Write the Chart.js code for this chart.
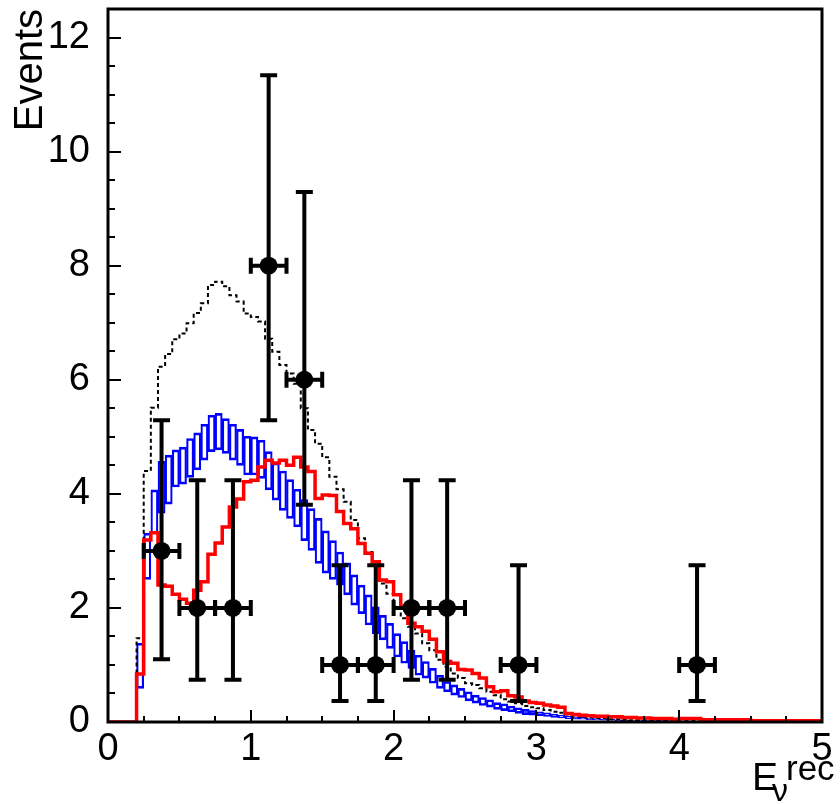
<!DOCTYPE html>
<html><head><meta charset="utf-8">
<script src="https://cdn.jsdelivr.net/npm/chart.js@4/dist/chart.umd.min.js"></script>
<style>html,body{margin:0;padding:0;background:#fff}</style>
</head><body>
<canvas id="c" width="840" height="804"></canvas>
<script>
// ---- data ----
const binLowEdges = [0,0.05,0.1,0.15,0.2,0.25,0.3,0.35,0.4,0.45,0.5,0.55,0.6,0.65,0.7,0.75,0.8,0.85,0.9,0.95,
1,1.05,1.1,1.15,1.2,1.25,1.3,1.35,1.4,1.45,1.5,1.55,1.6,1.65,1.7,1.75,1.8,1.85,1.9,1.95,
2,2.05,2.1,2.15,2.2,2.25,2.3,2.35,2.4,2.45,2.5,2.55,2.6,2.65,2.7,2.75,2.8,2.85,2.9,2.95,
3,3.05,3.1,3.15,3.2,3.25,3.3,3.35,3.4,3.45,3.5,3.55,3.6,3.65,3.7,3.75,3.8,3.85,3.9,3.95,
4,4.05,4.1,4.15,4.2,4.25,4.3,4.35,4.4,4.45,4.5,4.55,4.6,4.65,4.7,4.75,4.8,4.85,4.9,4.95];
const histUpperEdge = 5;
const binHalfWidth = 0.025;

const redHist = [0,0,0,0,0.84,3.19,3.32,2.40,2.38,2.24,2.15,2.08,2.31,2.46,2.94,3.14,3.42,3.77,3.91,4.21,
4.24,4.47,4.59,4.54,4.59,4.50,4.64,4.47,4.39,3.92,3.98,3.97,3.69,3.48,3.39,3.13,2.96,2.81,2.49,2.46,
2.23,2.03,1.73,1.67,1.59,1.45,1.23,1.06,1.03,0.92,0.91,0.85,0.77,0.62,0.53,0.55,0.46,0.44,0.37,0.34,
0.33,0.30,0.28,0.26,0.15,0.13,0.12,0.11,0.10,0.10,0.09,0.09,0.08,0.08,0.07,0.07,0.06,0.06,0.06,0.05,
0.06,0.06,0.06,0.04,0.04,0.04,0.04,0.04,0.04,0.04,0.02,0.02,0.02,0.02,0.02,0.02,0.02,0.02,0.02,0.02];

const dottedHist = [0,0,0,0,1.47,4.40,5.51,6.23,6.45,6.71,6.81,6.99,7.17,7.34,7.66,7.72,7.64,7.48,7.37,7.16,
7.10,7.02,6.72,6.49,6.26,6.11,5.93,5.50,5.12,4.88,4.64,4.30,4.08,3.86,3.54,3.22,2.98,2.81,2.43,2.25,
2.02,1.82,1.67,1.55,1.38,1.26,1.09,0.97,0.85,0.77,0.68,0.65,0.59,0.53,0.47,0.40,0.36,0.33,0.28,0.26,
0.24,0.21,0.18,0.16,0.13,0.11,0.09,0.08,0.07,0.06,0.05,0.05,0.04,0.03,0.03,0.03,0.03,0.03,0.03,0.03,
0.02,0.02,0.02,0.02,0.02,0.02,0.02,0.02,0.02,0.02,0.01,0.01,0.01,0.01,0.01,0.01,0.01,0.01,0.01,0.01];

const blueLow = [null,null,null,null,0.59,2.50,3.30,3.66,3.82,4.12,4.17,4.29,4.42,4.59,4.74,4.77,4.71,4.59,4.50,4.33,
4.33,4.27,4.07,3.89,3.71,3.57,3.42,3.18,3.01,2.78,2.61,2.50,2.40,2.23,2.05,1.90,1.70,1.55,1.44,1.29,
1.14,1.03,0.94,0.82,0.77,0.68,0.59,0.53,0.47,0.43,0.37,0.33,0.29,0.26,0.22,0.20,0.18,0.15,0.13,0.12,
0.11,0.10,0.08,0.07,0.06,0.05,0.05,0.04,0.04,0.03,0.03,0.02,0.02,0.02,0.01,0.01,0.01,0.01,0.01,0.01,
0.01,0.01,0.01,0.01,0.01,0.01,0.01,0.01,0.01,0.01,0,0,0,0,0,0,0,0,0,0];
const blueHigh = [null,null,null,null,1.38,3.31,4.07,4.57,4.68,4.77,4.82,4.97,5.07,5.22,5.38,5.41,5.32,5.22,5.13,5.01,
5.00,4.94,4.74,4.54,4.40,4.25,4.08,3.90,3.74,3.57,3.35,3.18,2.98,2.79,2.58,2.40,2.23,2.02,1.87,1.73,
1.55,1.41,1.26,1.17,1.06,0.94,0.82,0.71,0.65,0.59,0.53,0.47,0.43,0.39,0.34,0.32,0.28,0.25,0.22,0.20,
0.18,0.16,0.14,0.12,0.10,0.09,0.08,0.07,0.06,0.05,0.05,0.04,0.04,0.03,0.03,0.03,0.03,0.03,0.03,0.03,
0.02,0.02,0.02,0.02,0.02,0.02,0.02,0.02,0.02,0.02,0.01,0.01,0.01,0.01,0.01,0.01,0.01,0.01,0.01,0.01];

const pointX = [0.375,0.625,0.875,1.125,1.375,1.625,1.875,2.125,2.375,2.875,4.125];
const pointY = [3,2,2,8,6,1,1,2,2,1,1];
const pointLow = [1.10,0.74,0.74,5.29,3.81,0.37,0.37,0.74,0.74,0.37,0.37];
const pointHigh = [5.29,4.24,4.24,11.34,9.29,2.75,2.75,4.24,4.24,2.75,2.75];
const pointXErr = [0.125,0.125,0.125,0.125,0.125,0.125,0.125,0.125,0.125,0.125,0.125];

const xTickLabels = ['0','1','2','3','4','5'];
const yTickLabels = ['0','2','4','6','8','10','12'];
// ---- end data ----

const FONT = '"Liberation Sans", Arial, Helvetica, sans-serif';

function stepData(vals) {
  const d = binLowEdges.map((x, i) => ({x: x, y: vals[i]}));
  d.push({x: histUpperEdge, y: vals[vals.length - 1]});
  return d;
}
const bandData = binLowEdges.map((x, i) => (blueLow[i] === null ? {x: x + binHalfWidth, y: null} : {x: x + binHalfWidth, y: [blueLow[i], blueHigh[i]]}));
const pointData = pointX.map((x, i) => ({x: x, y: pointY[i]}));

const decorPlugin = {
  id: 'decor',
  afterDatasetsDraw(chart) {
    const ctx = chart.ctx;
    const xs = chart.scales.x, ys = chart.scales.y;
    ctx.save();
    ctx.strokeStyle = '#000';
    ctx.lineWidth = 4;
    ctx.lineCap = 'butt';
    for (let i = 0; i < pointX.length; i++) {
      const px = xs.getPixelForValue(pointX[i]);
      const py = ys.getPixelForValue(pointY[i]);
      const pl = ys.getPixelForValue(pointLow[i]);
      const ph = ys.getPixelForValue(pointHigh[i]);
      const xl = xs.getPixelForValue(pointX[i] - pointXErr[i]);
      const xr = xs.getPixelForValue(pointX[i] + pointXErr[i]);
      ctx.beginPath();
      ctx.moveTo(px, pl); ctx.lineTo(px, ph);
      ctx.moveTo(px - 8.5, pl); ctx.lineTo(px + 8.5, pl);
      ctx.moveTo(px - 8.5, ph); ctx.lineTo(px + 8.5, ph);
      ctx.moveTo(xl, py); ctx.lineTo(xr, py);
      ctx.moveTo(xl, py - 8); ctx.lineTo(xl, py + 8);
      ctx.moveTo(xr, py - 8); ctx.lineTo(xr, py + 8);
      ctx.stroke();
    }
    ctx.restore();
  },
  afterDraw(chart) {
    const ctx = chart.ctx;
    const a = chart.chartArea;
    const xs = chart.scales.x, ys = chart.scales.y;
    ctx.save();
    ctx.strokeStyle = '#000';
    ctx.lineWidth = 3;
    ctx.strokeRect(a.left, a.top, a.right - a.left, a.bottom - a.top);
    ctx.lineWidth = 2;
    ctx.beginPath();
    for (let k = 0; k <= 20; k++) {
      const v = k * 0.25;
      const len = (k % 4 === 0) ? 12 : 6;
      const px = Math.round(xs.getPixelForValue(v));
      ctx.moveTo(px, a.bottom); ctx.lineTo(px, a.bottom - len);
    }
    for (let k = 0; k <= 24; k++) {
      const v = k * 0.5;
      const len = (k % 4 === 0) ? 13 : 7;
      const py = Math.round(ys.getPixelForValue(v));
      ctx.moveTo(a.left, py); ctx.lineTo(a.left + len, py);
    }
    ctx.stroke();
    // x axis title E_nu^rec
    ctx.fillStyle = '#000';
    ctx.textBaseline = 'alphabetic';
    ctx.textAlign = 'left';
    ctx.font = '39px ' + FONT;
    ctx.fillText('E', 752, 790);
    ctx.font = '32px ' + FONT;
    ctx.fillText('\u03BD', 772, 801);
    ctx.font = '35px ' + FONT;
    ctx.fillText('rec', 786, 780);
    ctx.restore();
  }
};

new Chart(document.getElementById('c'), {
  type: 'scatter',
  data: {
    datasets: [
      {
        type: 'scatter', label: 'data', data: pointData, order: 1,
        pointRadius: 9, pointBackgroundColor: '#000', pointBorderWidth: 0, pointBorderColor: '#000', showLine: false
      },
      {
        type: 'line', label: 'red', data: stepData(redHist), order: 2,
        stepped: true, borderColor: '#ff0000', borderWidth: 3.5, pointRadius: 0, fill: false, tension: 0
      },
      {
        type: 'line', label: 'dotted', data: stepData(dottedHist), order: 3,
        stepped: true, borderColor: '#000', borderWidth: 2, borderDash: [4, 3], pointRadius: 0, fill: false, tension: 0
      },
      {
        type: 'bar', label: 'band', data: bandData, order: 4,
        backgroundColor: 'rgba(0,0,0,0)', borderColor: '#0000ff',
        borderWidth: {left: 1.5, right: 1.5, top: 2, bottom: 2}, borderSkipped: false,
        barPercentage: 1, categoryPercentage: 1, grouped: false
      }
    ]
  },
  options: {
    responsive: false, animation: false, devicePixelRatio: 1,
    layout: {padding: {left: 0, top: 9, right: 18, bottom: 0}},
    plugins: {legend: {display: false}, tooltip: {enabled: false}},
    scales: {
      x: {
        type: 'linear', min: 0, max: 5, offset: false,
        grid: {display: false, offset: false, drawTicks: false},
        border: {display: false},
        ticks: {stepSize: 1, padding: 5, color: '#000', font: {family: FONT, size: 38}, maxRotation: 0, autoSkip: false,
          callback: (v) => xTickLabels[Math.round(v)] },
        afterFit: (s) => { s.height = 82; s.paddingLeft = 0; s.paddingRight = 0; }
      },
      y: {
        type: 'linear', min: 0, max: 12.5,
        grid: {display: false, drawTicks: false},
        border: {display: false},
        ticks: {stepSize: 2, includeBounds: false, padding: 18, color: '#000', font: {family: FONT, size: 38},
          callback: (v) => yTickLabels[Math.round(v / 2)] },
        title: {display: true, text: 'Events', align: 'end', color: '#000', font: {family: FONT, size: 40}, padding: {top: 7, bottom: 0}},
        afterFit: (s) => { s.width = 108; s.paddingTop = 0; s.paddingBottom = 0; }
      }
    }
  },
  plugins: [decorPlugin]
});
</script>
</body></html>
